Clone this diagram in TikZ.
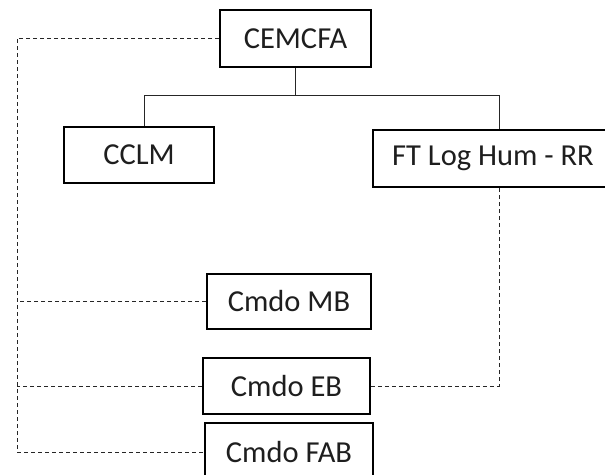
\documentclass[tikz,border=0pt]{standalone}
\usepackage{fontspec}
\usepackage{tikz}
\setmainfont{Carlito}
\definecolor{texto}{HTML}{1E1E1E}
\tikzstyle{caixa}=[rectangle, draw=black, line width=1.6pt, text=texto, font=\fontsize{30.5}{33}\selectfont, inner sep=0pt]
\tikzstyle{ligacao}=[line width=0.9pt, draw=black!85]
\tikzstyle{tracejado}=[line width=1pt, draw=black!85, dash pattern=on 4pt off 3pt]

\begin{document}
\begin{tikzpicture}[x=1pt, y=-1pt]
	\clip (0,0) rectangle (605,474);
	\useasboundingbox (0,0) rectangle (605,474);
	\node[caixa, minimum width=151pt, minimum height=57pt] (cemcfa) at (295.5,38.5) {CEMCFA};
	\node[caixa, minimum width=150pt, minimum height=56pt] (cclm) at (139,155) {CCLM};
	\node[caixa, minimum width=240pt, minimum height=57pt] (ft) at (493,158.5) {FT Log Hum - RR};
	\node[caixa, minimum width=164pt, minimum height=55pt] (mb) at (289,301.5) {Cmdo MB};
	\node[caixa, minimum width=167pt, minimum height=56pt] (eb) at (286.5,386) {Cmdo EB};
	\node[caixa, minimum width=168pt, minimum height=58pt] (fab) at (289,452) {Cmdo FAB};
	\coordinate (esq) at (17,452);
	\draw[ligacao] (cemcfa.south) -- ++(0,28) coordinate (barra);
	\draw[ligacao] ([xshift=5pt]cclm.north) |- (barra) -| ([xshift=6pt]ft.north);
	\draw[tracejado] (cemcfa.west) -| (esq) -- (fab.west);
	\draw[tracejado] (mb.west) -- (mb.west -| esq);
	\draw[tracejado] (eb.west) -- (eb.west -| esq);
	\draw[tracejado] (eb.east) -| ([xshift=6pt]ft.south);
\end{tikzpicture}
\end{document}
